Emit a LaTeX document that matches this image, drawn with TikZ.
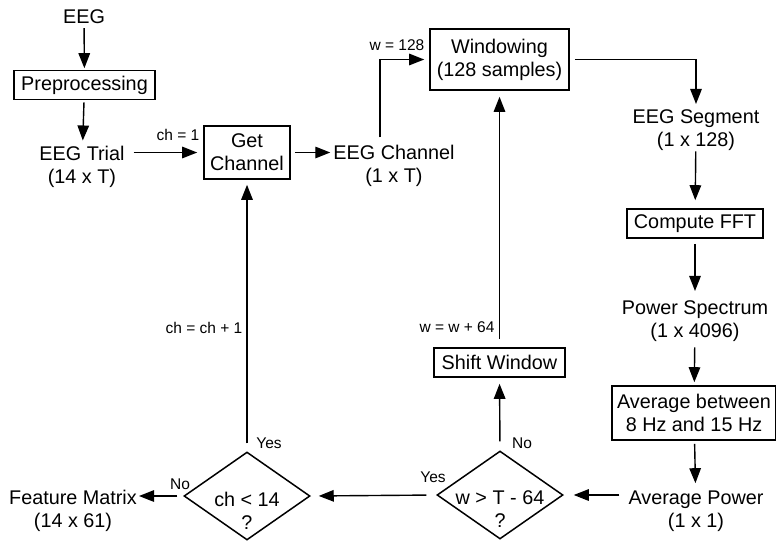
\documentclass[tikz,border=0pt]{standalone}
\usepackage{fontspec}
\setmainfont{Liberation Sans}
\usetikzlibrary{arrows.meta,shapes.geometric}
\begin{document}
\begin{tikzpicture}[x=1pt,y=-1pt,
  txt/.style={font=\fontsize{19.8}{23}\selectfont, align=center, inner sep=0pt},
  box/.style={txt, draw, line width=1.6pt},
  small/.style={font=\fontsize{15.5}{18}\selectfont, inner sep=0pt},
  dia/.style={draw, diamond, line width=1.5pt, minimum width=126pt, minimum height=88pt, inner sep=0pt},
  flow/.style={line width=1.4pt, -{Triangle[length=15pt,width=11.5pt]}},
]
\useasboundingbox (0,0) rectangle (776,544);

% processing chain (two-line labels are placed by the baseline of their last line)
\node[txt] (eeg) at (84,17) {EEG};
\node[box, minimum width=141pt, minimum height=29pt] (prep) at (84.5,85) {Preprocessing};
\node[txt, anchor=base] (trial) at (82,183) {EEG Trial\\(14 x T)};
\node[box, minimum width=86pt, minimum height=53pt] (getch) at (247,152.5) {Get\\Channel};
\node[txt, anchor=base] (chan) at (394,182) {EEG Channel\\(1 x T)};
\node[box, minimum width=139pt, minimum height=61pt] (win) at (499.5,59.5) {Windowing\\(128 samples)};
\node[txt, anchor=base] (seg) at (696,146) {EEG Segment\\(1 x 128)};
\node[box, minimum width=136pt, minimum height=29pt] (fft) at (695,223.5) {Compute FFT};
\node[txt, anchor=base] (spec) at (695,337) {Power Spectrum\\(1 x 4096)};
\node[box, minimum width=164pt, minimum height=54pt] (avg) at (694,413) {Average between\\8 Hz and 15 Hz};
\node[txt, anchor=base] (pow) at (696,527) {Average Power\\(1 x 1)};

% decisions
\node[dia] (wdia) at (500,495) {};
\node[txt, anchor=base] (wq) at (500,527) {w > T - 64\\?};
\node[box, minimum width=131pt, minimum height=29pt] (shift) at (499.5,362.5) {Shift Window};
\node[dia] (cdia) at (247,496) {};
\node[txt, anchor=base] (cq) at (247,529) {ch < 14\\?};
\node[txt, anchor=base] (feat) at (73,527) {Feature Matrix\\(14 x 61)};

% connector labels
\node[small] (l1) at (178,135) {ch = 1};
\node[small] (l2) at (397,45) {w = 128};
\node[small] (l3) at (204,328) {ch = ch + 1};
\node[small] (l4) at (457,327) {w = w + 64};
\node[small] (l5) at (269,443) {Yes};
\node[small] (l6) at (180,484) {No};
\node[small] (l7) at (433,477) {Yes};
\node[small] (l8) at (522,443) {No};

% connectors
\draw[flow, shorten <=4pt, shorten >=1.5pt] (eeg) -- (prep);
\draw[flow, shorten <=2pt, shorten >=5pt] (prep) -- (trial);
\draw[flow, shorten <=9pt, shorten >=6pt] (trial.east |- getch.west) -- (getch.west);
\draw[flow, shorten <=4pt, shorten >=3pt] (getch.east) -- (chan.west |- getch.east);
\draw[flow, shorten <=7pt, shorten >=5pt] ([xshift=-14pt]chan.north) |- (win.west);
\draw[flow, shorten <=5pt, shorten >=5pt] (win.east) -| (seg.north);
\draw[flow, shorten <=1pt, shorten >=8pt] (seg) -- (fft);
\draw[flow, shorten <=5pt, shorten >=9pt] (fft) -- (spec);
\draw[flow, shorten <=6pt, shorten >=3pt] (spec) -- (avg);
\draw[flow, shorten <=3pt, shorten >=7pt] (avg) -- (pow);
\draw[flow, shorten <=9pt, shorten >=10pt] (pow.west |- wdia.east) -- (wdia.east);
\draw[flow, shorten <=9pt, shorten >=6pt] (wdia.north) -- (shift.south);
\draw[flow, shorten <=8pt, shorten >=6pt] (shift.north) -- (win.south);
\draw[flow, shorten <=10pt, shorten >=8pt] (wdia.west) -- (cdia.east);
\draw[flow, shorten <=8pt, shorten >=5pt] (cdia.north) -- (getch.south);
\draw[flow, shorten <=6pt, shorten >=2pt] (cdia.west) -- (feat.east |- cdia.west);
\end{tikzpicture}
\end{document}
